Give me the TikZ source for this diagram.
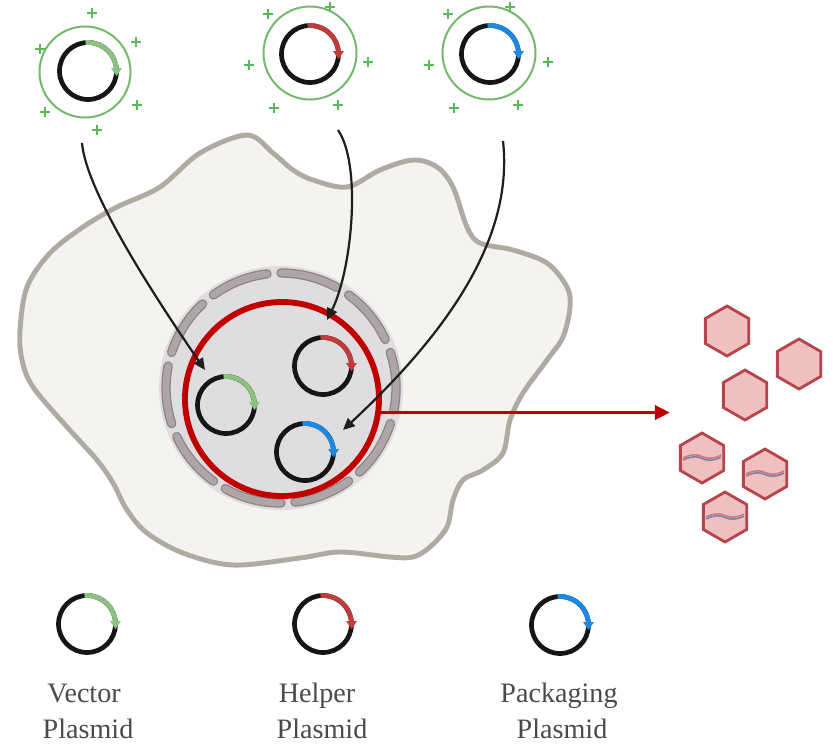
\documentclass[tikz,border=0pt]{standalone}
\usepackage{fontspec}
\setmainfont{Liberation Serif}
\usetikzlibrary{arrows.meta,shapes.geometric}
\definecolor{ringblack}{HTML}{151515}
\definecolor{vgreen}{HTML}{8DC182}
\definecolor{hred}{HTML}{C23B3B}
\definecolor{pblue}{HTML}{1E88E5}
\definecolor{shellgreen}{HTML}{74B96B}
\definecolor{plusgreen}{HTML}{5CB85C}
\definecolor{cellfill}{HTML}{F4F3EF}
\definecolor{celledge}{HTML}{AEABA3}
\definecolor{nucfill}{HTML}{DFDDE0}
\definecolor{dashedge}{HTML}{8A8284}
\definecolor{dashfill}{HTML}{ADA5A7}
\definecolor{redring}{HTML}{C00000}
\definecolor{hexfill}{HTML}{F0BFBF}
\definecolor{hexedge}{HTML}{B5454B}
\definecolor{strandred}{HTML}{D9707A}
\definecolor{strandblue}{HTML}{6F84A8}
\definecolor{labelgray}{HTML}{4A4A4A}
\begin{document}
\begin{tikzpicture}[x=0.03cm,y=0.03cm,
  ringline/.style={draw=ringblack,line width=4pt},
  shell/.style={draw=shellgreen,line width=1.7pt},
  plusline/.style={draw=plusgreen,line width=1.3pt},
  conn/.style={draw=black!88,line width=1.9pt,-{Triangle[length=10pt,width=9pt]}},
  redarrow/.style={draw=redring,line width=3.4pt,-{Triangle[length=13pt,width=12pt]}},
  hexa/.style={regular polygon,regular polygon sides=6,shape border rotate=30,
    minimum size=1.5cm,inner sep=0pt,outer sep=0pt,draw=hexedge,fill=hexfill,line width=2.4pt},
  lbl/.style={text=labelgray,font=\fontsize{24}{28}\selectfont,anchor=base,inner sep=0pt},
  plasmid/.pic={
    \draw[ringline] (0,0) circle (28.5);
    \draw[ringline,draw=#1] (95:28.5) arc[start angle=95,end angle=6,radius=28.5];
    \fill[#1] (23,3) -- (34,3) -- (28.5,-5) -- cycle;
  },
  plus/.pic={\draw[plusline] (-5,0) -- (5,0) (0,-5) -- (0,5);},
  genome/.pic={
    \draw[strandred,line width=1.3pt] (-19,0) .. controls (-11,4) and (-5,4) .. (0,1.5)
      .. controls (5,-1) and (12,-1) .. (19,3);
    \draw[strandblue,line width=1.3pt] (-19,-2) .. controls (-11,2) and (-5,2) .. (0,-0.5)
      .. controls (5,-3) and (12,-3) .. (19,1);
  }]
\useasboundingbox (0,0) rectangle (834,-743);

% cell body
\draw[fill=cellfill,draw=celledge,line width=4.2pt]
  plot[smooth cycle,tension=0.55] coordinates {
  (20,-330) (27,-287) (50,-253) (83,-227) (117,-207) (160,-187) (200,-153)
  (247,-135) (273,-153) (293,-170) (313,-180) (347,-187) (380,-170) (413,-160)
  (437,-167) (453,-187) (467,-227) (480,-243) (513,-250) (547,-263) (567,-287)
  (570,-307) (563,-337) (547,-360) (523,-393) (510,-420) (503,-453) (483,-470)
  (463,-480) (453,-500) (447,-527) (430,-547) (413,-557) (390,-557) (340,-552)
  (300,-558) (233,-565) (183,-553) (147,-533) (127,-510) (113,-483) (97,-460)
  (67,-427) (33,-387) (22,-360)};

% nucleus with broken envelope
\fill[nucfill] (281,-388) circle (122);
\foreach \a in {25,61,...,349}{
  \draw[dashedge,line width=8pt,line cap=round] (281,-388) ++(\a:115) arc[start angle=\a,delta angle=29,radius=115];
  \draw[dashfill,line width=5.8pt,line cap=round] (281,-388) ++(\a:115) arc[start angle=\a,delta angle=29,radius=115];
}
\node[circle,draw=redring,line width=5pt,minimum size=5.82cm,inner sep=0pt,outer sep=0pt] (nuc) at (282,-399) {};

% plasmids inside the nucleus
\pic at (226,-405) {plasmid=vgreen};
\pic at (323,-366) {plasmid=hred};
\pic at (305,-452) {plasmid=pblue};

% transfected plasmids at the top
\draw[shell] (85,-72) circle (45.5);
\pic at (88,-71) {plasmid=vgreen};
\foreach \p in {(92,-13),(40,-49),(136,-42),(45,-112),(137,-105),(97,-130)} \pic at \p {plus};

\draw[shell] (310,-53) circle (46.5);
\pic at (310,-54) {plasmid=hred};
\foreach \p in {(268,-14),(330,-7),(249,-65),(368,-62),(274,-108),(338,-105)} \pic at \p {plus};

\draw[shell] (489,-53) circle (46.5);
\pic at (490,-54) {plasmid=pblue};
\foreach \p in {(448,-14),(510,-7),(429,-65),(548,-62),(454,-108),(518,-105)} \pic at \p {plus};

% uptake paths
\coordinate (a1s) at (82,-143);
\coordinate (a1e) at (205,-370);
\coordinate (a2s) at (338,-130);
\coordinate (a2e) at (327,-320);
\coordinate (a3s) at (503,-141);
\coordinate (a3e) at (343,-430);
\draw[conn] (a1s) .. controls (86,-190) and (150,-290) .. (a1e);
\draw[conn] (a2s) .. controls (362,-165) and (352,-270) .. (a2e);
\draw[conn] (a3s) .. controls (514,-240) and (445,-335) .. (a3e);

% released particles
\coordinate (rtip) at (670,-412);
\draw[redarrow] (nuc.-8) -- (nuc.-8 -| rtip);

\node[hexa] (h1) at (727,-331) {};
\node[hexa] (h2) at (799,-364) {};
\node[hexa] (h3) at (745,-395) {};
\node[hexa] (h4) at (702,-458) {};
\node[hexa] (h5) at (765,-474) {};
\node[hexa] (h6) at (725,-517) {};
\pic at (h4.center) {genome};
\pic at (h5.center) {genome};
\pic at (h6.center) {genome};

% legend
\pic at (87,-624) {plasmid=vgreen};
\pic at (323,-624) {plasmid=hred};
\pic at (560,-625) {plasmid=pblue};
\node[lbl] (l1a) at (84,-702) {Vector};
\node[lbl] (l1b) at (88,-738) {Plasmid};
\node[lbl] (l2a) at (317,-702) {Helper};
\node[lbl] (l2b) at (322,-738) {Plasmid};
\node[lbl] (l3a) at (559,-702) {Packaging};
\node[lbl] (l3b) at (562,-738) {Plasmid};
\end{tikzpicture}
\end{document}
